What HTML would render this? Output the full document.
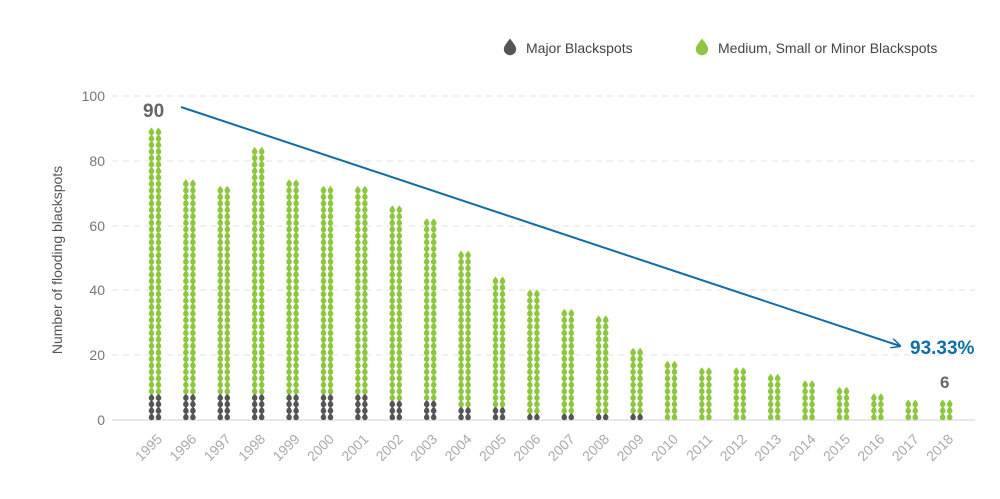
<!DOCTYPE html><html><head><style>body{margin:0;background:#fff}svg{display:block;font-family:"Liberation Sans",sans-serif}</style></head><body>
<svg id="s" width="1000" height="499" viewBox="0 0 1000 499">
<defs><path id="d" d="M0,-3.4 C1.3,-1.6 2.8,0 2.8,1.4 A2.8,2.8 0 0 1 -2.8,1.4 C-2.8,0 -1.3,-1.6 0,-3.4Z"/>
<marker id="ar" markerWidth="10" markerHeight="10" refX="9" refY="5" orient="auto" markerUnits="userSpaceOnUse"><path d="M0,0 L10,5 L0,10" fill="none" stroke="#0f6ea6" stroke-width="1.5"/></marker></defs>
<g stroke="#e0e0e0" stroke-dasharray="6,5" stroke-width="1">
<line x1="112" x2="975" y1="96" y2="96"/><line x1="112" x2="975" y1="161" y2="161"/><line x1="112" x2="975" y1="226" y2="226"/><line x1="112" x2="975" y1="290" y2="290"/><line x1="112" x2="975" y1="355" y2="355"/></g>
<line x1="112" x2="975" y1="420" y2="420" stroke="#d0d0d0"/>
<g fill="#777" font-size="14" text-anchor="end"><text x="105" y="101">100</text><text x="105" y="166">80</text><text x="105" y="231">60</text><text x="105" y="295">40</text><text x="105" y="360">20</text><text x="105" y="425">0</text></g>
<text transform="translate(62,260) rotate(-90)" text-anchor="middle" font-size="14" fill="#555">Number of flooding blackspots</text>
<g id="bars"></g><g id="xl" fill="#aaa" font-size="14" text-anchor="end"></g>
<line x1="181" y1="107" x2="900" y2="346" stroke="#0f6ea6" stroke-width="2" marker-end="url(#ar)"/>
<text x="143" y="117" font-size="19" font-weight="bold" fill="#666">90</text>
<text x="910" y="354" font-size="19" font-weight="bold" fill="#0f6ea6">93.33%</text>
<text x="940" y="388" font-size="17" font-weight="bold" fill="#666">6</text>
<use href="#d" fill="#555" transform="translate(510,46) scale(2.2)"/>
<text x="526" y="53" font-size="14" fill="#444">Major Blackspots</text>
<use href="#d" fill="#8dc63f" transform="translate(702,46) scale(2.2)"/>
<text x="718" y="53" font-size="14" fill="#444">Medium, Small or Minor Blackspots</text>
</svg>
<script>
var T=[90,74,72,84,74,72,72,66,62,52,44,40,34,32,22,18,16,16,14,12,10,8,6,6],M=[8,8,8,8,8,8,8,6,6,4,4,2,2,2,2,0,0,0,0,0,0,0,0,0];
var h='',x='';
for(var i=0;i<24;i++){var cx=155+i*34.4;
for(var k=0;k<T[i];k++){var r=Math.floor(k/2),c=k%2;var px=cx+(c?3.5:-3.5),py=416-r*6.48;
h+='<use href="#d" x="'+px.toFixed(1)+'" y="'+py.toFixed(1)+'" fill="'+(k<M[i]?'#555':'#8dc63f')+'"/>';}
x+='<text transform="translate('+(cx+8)+',440) rotate(-45)">'+(1995+i)+'</text>';}
document.getElementById('bars').innerHTML=h;document.getElementById('xl').innerHTML=x;
</script></body></html>
